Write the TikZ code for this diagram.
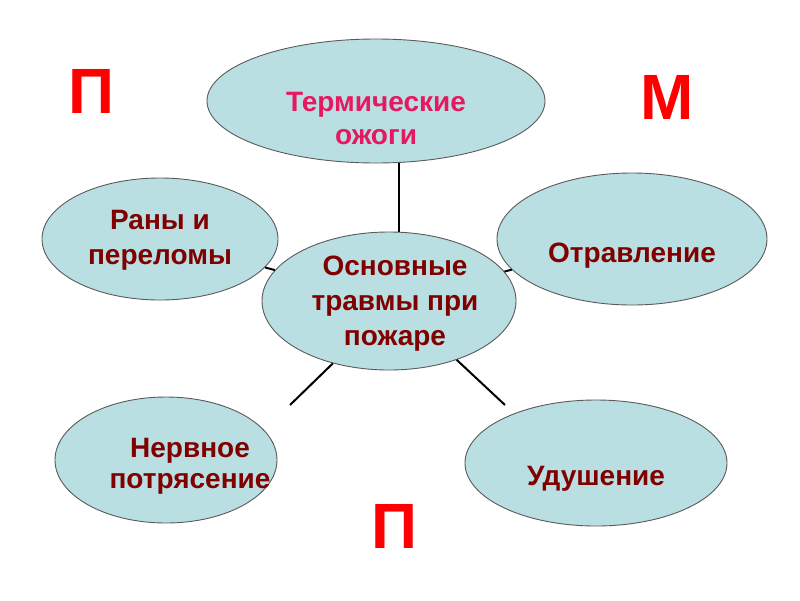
\documentclass[tikz,border=0pt]{standalone}
\usepackage{fontspec}
\setmainfont{Liberation Sans}
\usetikzlibrary{shapes.geometric}
\definecolor{ellfill}{HTML}{B9DFE2}
\definecolor{ellline}{HTML}{5A5A5A}
\definecolor{pinkred}{HTML}{E5195F}
\definecolor{maroon}{HTML}{800000}
\definecolor{bigred}{HTML}{FF0000}
\begin{document}
\begin{tikzpicture}[x=1pt,y=-1pt,
  ell/.style={ellipse, draw=ellline, line width=0.9pt, fill=ellfill, inner sep=0pt},
  lbl/.style={align=center, font=\fontsize{28}{35}\selectfont\bfseries, text=maroon, inner sep=0pt},
  big/.style={font=\fontsize{64}{70}\selectfont\bfseries, text=bigred, inner sep=0pt},
  conn/.style={draw=black, line width=2pt}]
\useasboundingbox (0,0) rectangle (800,600);
% ellipses
\node[ell, minimum width=338pt, minimum height=124pt] (T) at (376,101) {};
\node[ell, minimum width=236pt, minimum height=122pt] (Lft) at (160,239) {};
\node[ell, minimum width=270pt, minimum height=132pt] (R) at (632,239) {};
\node[ell, minimum width=222pt, minimum height=126pt] (LL) at (166,460) {};
\node[ell, minimum width=262pt, minimum height=126pt] (LR) at (596,463) {};
% connectors behind center ellipse
\coordinate (e3) at (290,405);
\coordinate (e4) at (505,405);
\path (389,301) coordinate (cc);
\node[ell, minimum width=254pt, minimum height=138pt] (C) at (cc) {};
\draw[conn] (T.-70) -- (T.-70 |- C.north);
\draw[conn] (Lft) -- (C);
\draw[conn] (R) -- (C);
\draw[conn] (C.228) -- (e3);
\draw[conn] (C.-41.5) -- (e4);
% labels
\node[lbl, text=pinkred, font=\fontsize{28}{33}\selectfont\bfseries] (tT) at (376,119) {Термические\\ожоги};
\node[lbl] (tC) at (395,304) {Основные\\травмы при\\пожаре};
\node[lbl, font=\fontsize{28}{35}\selectfont\bfseries] (tL) at (160,240) {Раны и\\переломы};
\node[lbl] (tR) at (632,256) {Отравление};
\node[lbl, font=\fontsize{28}{31}\selectfont\bfseries] (tLL) at (190,466) {Нервное\\потрясение};
\node[lbl] (tLR) at (596,479) {Удушение};
% big letters
\node[big] (p1) at (91,91) {П};
\node[big] (m1) at (667,97) {М};
\node[big] (p2) at (394,526) {П};
\end{tikzpicture}
\end{document}
